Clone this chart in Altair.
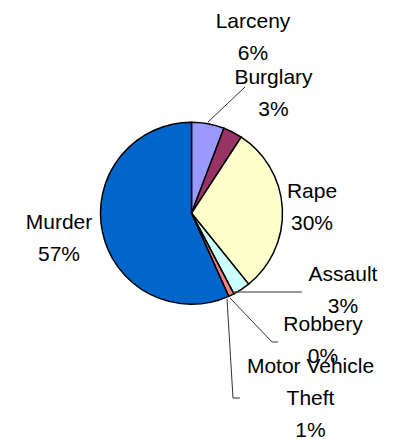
import altair as alt
import pandas as pd

# ---- data ----
categories = ["Larceny", "Burglary", "Rape", "Assault", "Robbery", "Motor Vehicle\nTheft", "Murder"]
values = [5.8, 3.4, 30.0, 3.1, 0.0, 1.0, 56.7]
colors = ["#9999FF", "#993366", "#FFFFCC", "#CCFFFF", "#660066", "#FF8080", "#0066CC"]

# ---- label layout (offset of each label's first line from the pie centre, px) ----
label_dx = [61.5, 82.0, 120.5, 151.5, 131.5, 119.0, -132.5]
label_dy = [-191.3, -135.3, -21.3, 61.7, 111.7, 154.0, 9.7]

# leader lines (offsets from pie centre, px)
lead_x1 = [16.5, 41.5, 38.5, 80.5, 35.5, 41.5]
lead_y1 = [-91.3, 78.7, 84.7, 128.7, 85.7, 184.7]
lead_x2 = [53.5, 110.5, 80.5, 86.5, 41.5, 48.5]
lead_y2 = [-126.3, 78.7, 128.7, 128.7, 184.7, 184.7]

W, H = 383, 431
CX, CY = 183.5, 205.3
R = 91

total = sum(values)
pct = [f"{round(v / total * 100 + 1e-9):.0f}%" for v in values]

pie_df = pd.DataFrame({"cat": categories, "value": values, "idx": list(range(len(values)))})
lab_df = pd.DataFrame({
    "text": [f"{c}\n{p}" for c, p in zip(categories, pct)],
    "dx": label_dx, "dy": label_dy,
})
lead_df = pd.DataFrame({"x1": lead_x1, "y1": lead_y1, "x2": lead_x2, "y2": lead_y2})

xs = alt.Scale(domain=[-CX, W - CX], range=[0, W])
ys = alt.Scale(domain=[-CY, H - CY], range=[0, H])

pie = alt.Chart(pie_df).mark_arc(
    outerRadius=R, stroke="black", strokeWidth=1.5
).encode(
    theta=alt.Theta("value:Q", stack=True),
    order=alt.Order("idx:Q"),
    color=alt.Color("cat:N", scale=alt.Scale(domain=categories, range=colors), legend=None),
    x=alt.value(CX), y=alt.value(CY),
)

leads = alt.Chart(lead_df).mark_rule(color="#333333", strokeWidth=1).encode(
    x=alt.X("x1:Q", scale=xs, axis=None),
    y=alt.Y("y1:Q", scale=ys, axis=None),
    x2="x2:Q", y2="y2:Q",
)

labels = alt.Chart(lab_df).mark_text(
    font="Liberation Sans", fontSize=21, color="black",
    lineBreak="\n", lineHeight=32, align="center", baseline="middle",
).encode(
    x=alt.X("dx:Q", scale=xs, axis=None),
    y=alt.Y("dy:Q", scale=ys, axis=None),
    text="text:N",
)

chart = alt.layer(pie, leads, labels).properties(
    width=W, height=H, autosize=alt.AutoSizeParams(type="none"), padding=0
).configure_view(stroke=None).resolve_scale(x="shared", y="shared")

chart.save("out.html", embed_options={"renderer": "svg", "actions": False})
